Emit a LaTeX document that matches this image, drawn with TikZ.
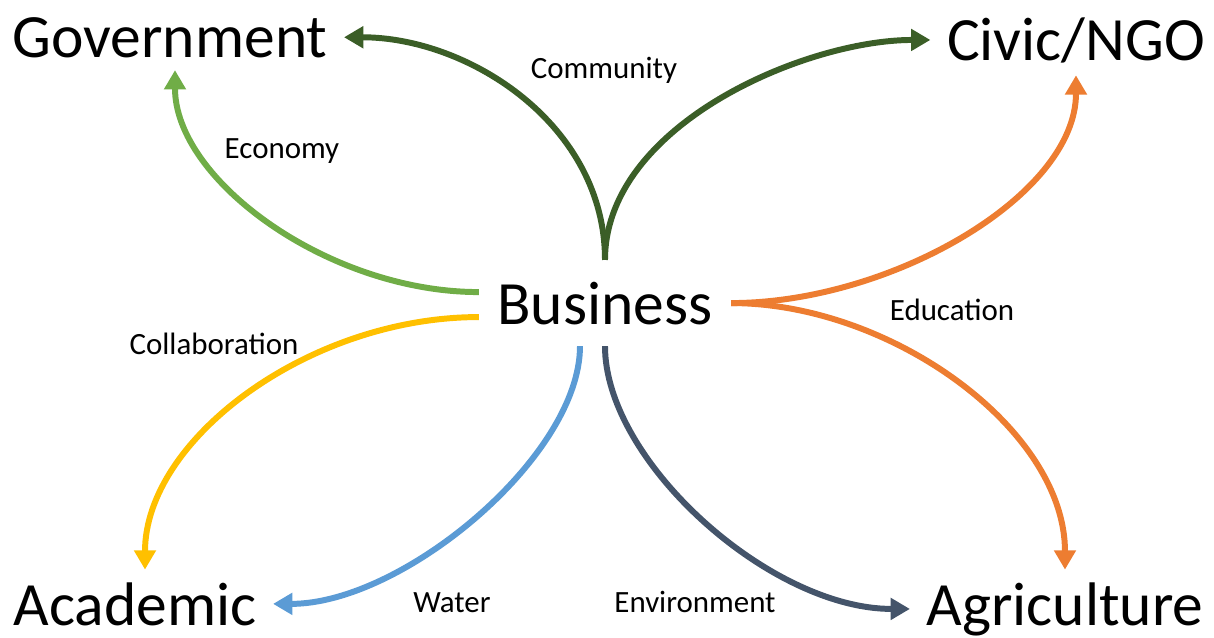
\documentclass[tikz,border=0pt]{standalone}
\usepackage{fontspec}
\setmainfont{Carlito}
\usetikzlibrary{arrows.meta}
\definecolor{commgreen}{HTML}{3B5E27}
\definecolor{econgreen}{HTML}{70AD47}
\definecolor{collyellow}{HTML}{FFC000}
\definecolor{waterblue}{HTML}{5B9BD5}
\definecolor{envslate}{HTML}{44546A}
\definecolor{eduorange}{HTML}{ED7D31}
\begin{document}
\begin{tikzpicture}[
  sector/.style={font=\fontsize{17.5}{21}\selectfont, anchor=base, inner xsep=0.16cm, inner ysep=0.12cm},
  topic/.style={font=\fontsize{8.8}{10.5}\selectfont, anchor=base},
  link/.style={line width=1.7pt, -{Triangle[length=5.5pt,width=6pt]}}
]
  \useasboundingbox (0,0) rectangle (12.14,6.37);
  \node[sector, inner xsep=0.18cm, inner ysep=0.21cm] (biz) at (6.05,3.13) {Business};
  \node[sector] (gov) at (1.70,5.80) {Government};
  \node[sector] (civic) at (10.76,5.77) {Civic/NGO};
  \node[sector] (acad) at (1.35,0.12) {Academic};
  \node[sector] (agri) at (10.65,0.12) {Agriculture};
  \node[topic] (comm) at (6.04,5.59) {Community};
  \node[topic] (econ) at (2.82,4.79) {Economy};
  \node[topic] (coll) at (2.14,2.83) {Collaboration};
  \node[topic] (edu) at (9.52,3.17) {Education};
  \node[topic] (water) at (4.52,0.25) {Water};
  \node[topic] (env) at (6.95,0.25) {Environment};
  \draw[link, commgreen] (biz.north) .. controls +(0,1.35) and +(1.25,0) .. (gov.east);
  \draw[link, commgreen] (biz.north) .. controls +(0,1.35) and +(-1.25,0) .. (civic.west);
  \draw[link, econgreen] ([yshift=0.11cm]biz.west) .. controls +(-1.5,0) and +(0,-1.1) .. ([xshift=0.05cm]gov.south);
  \draw[link, collyellow] ([yshift=-0.14cm]biz.west) .. controls +(-1.7,0) and +(0,1.3) .. ([xshift=0.1cm]acad.north);
  \draw[link, waterblue] ([xshift=-0.25cm]biz.south) .. controls +(0,-1.1) and +(1.3,0) .. (acad.east);
  \draw[link, envslate] (biz.south) .. controls +(0,-1.15) and +(-1.4,0) .. (agri.west);
  \draw[link, eduorange] (biz.east) .. controls +(1.6,0) and +(0,-1.2) .. (civic.south);
  \draw[link, eduorange] (biz.east) .. controls +(1.6,0) and +(0,1.4) .. (agri.north);
\end{tikzpicture}
\end{document}
